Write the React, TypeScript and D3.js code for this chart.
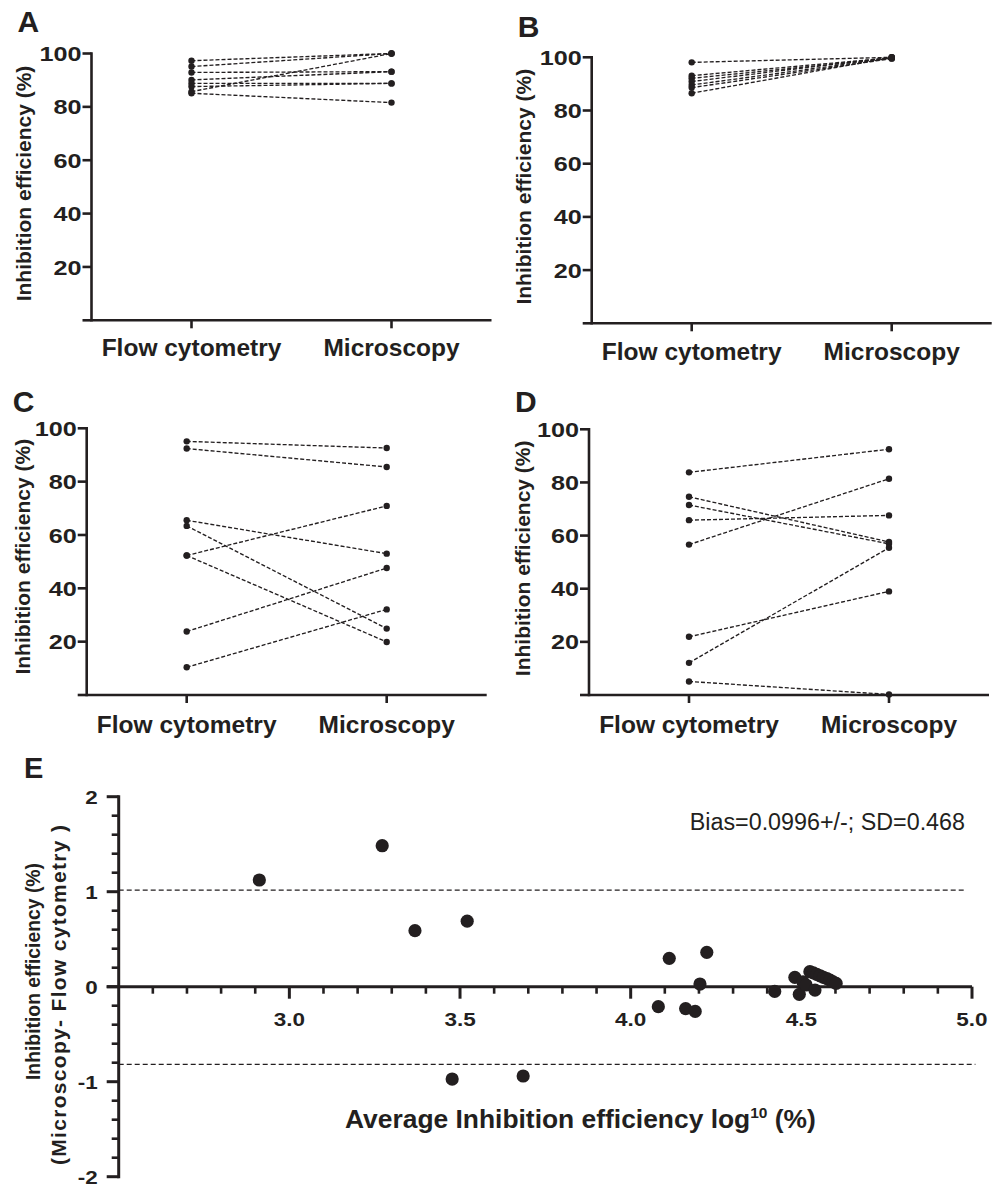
import * as d3 from "d3";

// paired panels: inhibition efficiency (%) per sample, flow cytometry vs microscopy
const categories = ["Flow cytometry", "Microscopy"];
const yTickValues = [0, 20, 40, 60, 80, 100];

const aFlow = [97.3, 95.1, 92.9, 90.1, 88.8, 87.6, 85.7, 85.1];
const aMicro = [100, 100, 93.2, 93.2, 88.8, 88.8, 100, 81.6];

const bFlow = [98.1, 93.1, 92.1, 90.9, 89.6, 88.6, 86.5];
const bMicro = [100, 99.8, 99.6, 100, 99.7, 99.5, 99.9];

const cFlow = [95.1, 92.4, 65.5, 63.4, 52.3, 52.3, 23.8, 10.4];
const cMicro = [92.6, 85.5, 53.0, 24.9, 70.9, 19.9, 47.6, 32.1];

const dFlow = [83.8, 74.6, 71.5, 65.8, 56.6, 21.9, 12.1, 5.1];
const dMicro = [92.5, 57.6, 56.9, 67.6, 81.4, 39.0, 55.4, 0.2];

// Bland-Altman panel E
const eAverage = [
  2.912, 3.272, 3.368, 3.521, 3.477, 3.685, 4.113, 4.223, 4.203, 4.081, 4.161,
  4.189, 4.422, 4.481, 4.494, 4.505, 4.514, 4.525, 4.535, 4.54, 4.545, 4.555,
  4.565, 4.575, 4.584, 4.593, 4.602,
];
const eDifference = [
  1.123, 1.484, 0.59, 0.69, -0.972, -0.94, 0.299, 0.362, 0.028, -0.21, -0.23,
  -0.26, -0.05, 0.099, -0.08, 0.05, 0.018, 0.158, 0.145, -0.035, 0.13, 0.115,
  0.099, 0.085, 0.07, 0.05, 0.035,
];
const eBias = 0.0996;
const eSD = 0.468;
const eXMajor = [3.0, 3.5, 4.0, 4.5, 5.0];
const eYMajor = [-2, -1, 0, 1, 2];

const INK = "#231f20";
const FONT = "'Liberation Sans', Arial, Helvetica, sans-serif";

type PanelProps = {
  letter: string;
  flow: number[];
  micro: number[];
  x0: number;
  yTop: number;
  yBottom: number;
  letterY: number;
  titleX: number;
  titleY: number;
  catY: number;
};

function PairedPanel(p: PanelProps) {
  const x = d3.scaleLinear().domain([0, 4]).range([p.x0, p.x0 + 400]);
  const y = d3.scaleLinear().domain([0, 100]).range([p.yBottom, p.yTop]);
  const catX = [x(1), x(3)];
  const line = d3
    .line<[number, number]>()
    .x((d) => d[0])
    .y((d) => d[1]);

  return (
    <g>
      <text x={p.x0 - 74} y={p.letterY} fontSize={30} fontWeight="bold" fill={INK}>
        {p.letter}
      </text>

      {p.flow.map((f, i) => (
        <path
          key={"l" + i}
          d={line([
            [catX[0], y(f)],
            [catX[1], y(p.micro[i])],
          ]) as string}
          fill="none"
          stroke={INK}
          strokeWidth={1.35}
          strokeDasharray="4,2"
        />
      ))}
      {p.flow.map((f, i) => (
        <circle key={"f" + i} cx={catX[0]} cy={y(f)} r={3.2} fill={INK} />
      ))}
      {p.micro.map((m, i) => (
        <circle key={"m" + i} cx={catX[1]} cy={y(m)} r={3.2} fill={INK} />
      ))}

      {/* y axis */}
      <line x1={p.x0} x2={p.x0} y1={y(0)} y2={y(100)} stroke={INK} strokeWidth={2.6} strokeLinecap="square" />
      {yTickValues.map((t) => (
        <g key={"yt" + t}>
          <line x1={p.x0 - 9} x2={p.x0} y1={y(t)} y2={y(t)} stroke={INK} strokeWidth={2.6} />
          {t > 0 && (
            <text
              transform={`translate(${p.x0 - 10},${y(t)}) scale(1.2,1)`}
              textAnchor="end"
              dy="0.36em"
              fontSize={21}
              fontWeight="bold"
              fill={INK}
            >
              {t}
            </text>
          )}
        </g>
      ))}

      {/* x axis */}
      <line x1={p.x0} x2={x(4)} y1={y(0)} y2={y(0)} stroke={INK} strokeWidth={2.6} />
      {catX.map((cx, i) => (
        <g key={"xt" + i}>
          <line x1={cx} x2={cx} y1={y(0)} y2={y(0) + 8} stroke={INK} strokeWidth={2.6} />
          <text x={cx} y={p.catY} textAnchor="middle" fontSize={24.5} fontWeight="bold" fill={INK}>
            {categories[i]}
          </text>
        </g>
      ))}

      <text
        transform={`translate(${p.titleX},${p.titleY}) rotate(-90)`}
        textAnchor="middle"
        fontSize={21}
        fontWeight="bold"
        fill={INK}
      >
        Inhibition efficiency (%)
      </text>
    </g>
  );
}

function BlandAltman() {
  const x = d3.scaleLinear().domain([2.5, 5]).range([118.7, 972]);
  const y = d3.scaleLinear().domain([-2, 2]).range([1176.7, 796.7]);
  const xMinor = d3.range(26, 51).map((v) => v / 10).filter((v) => Math.round(v * 10) % 5 !== 0);
  const yMinor = d3.range(-10, 11).map((v) => v / 5).filter((v) => Math.round(v * 5) % 5 !== 0);
  const upper = eBias + 1.96 * eSD;
  const lower = eBias - 1.96 * eSD;
  const ax = x(2.5);
  const ay = y(0);

  return (
    <g>
      <text x={24} y={778} fontSize={29} fontWeight="bold" fill={INK}>
        E
      </text>

      {/* limits of agreement */}
      <line x1={ax} x2={x(4.98)} y1={y(upper)} y2={y(upper)} stroke={INK} strokeWidth={1.4} strokeDasharray="5,3" />
      <line x1={ax} x2={x(5.01)} y1={y(lower)} y2={y(lower)} stroke={INK} strokeWidth={1.4} strokeDasharray="5,3" />

      {/* y axis */}
      <line x1={ax} x2={ax} y1={y(-2)} y2={y(2)} stroke={INK} strokeWidth={3} strokeLinecap="square" />
      {yMinor.map((t) => (
        <line key={"ym" + t} x1={ax - 7} x2={ax} y1={y(t)} y2={y(t)} stroke={INK} strokeWidth={2.6} />
      ))}
      {eYMajor.map((t) => (
        <g key={"yM" + t}>
          <line x1={ax - 12} x2={ax} y1={y(t)} y2={y(t)} stroke={INK} strokeWidth={3} />
          <text
            transform={`translate(${ax - 21},${y(t)}) scale(1.18,1)`}
            textAnchor="end"
            dy="0.36em"
            fontSize={19}
            fontWeight="bold"
            fill={INK}
          >
            {t}
          </text>
        </g>
      ))}

      {/* x axis at zero */}
      <line x1={ax - 12} x2={x(5)} y1={ay} y2={ay} stroke={INK} strokeWidth={3} />
      {xMinor.map((t) => (
        <line key={"xm" + t} x1={x(t)} x2={x(t)} y1={ay} y2={ay + 7} stroke={INK} strokeWidth={2.6} />
      ))}
      {eXMajor.map((t) => (
        <g key={"xM" + t}>
          <line x1={x(t)} x2={x(t)} y1={ay} y2={ay + 12} stroke={INK} strokeWidth={3} />
          <text
            transform={`translate(${x(t)},1026) scale(1.25,1)`}
            textAnchor="middle"
            fontSize={18}
            fontWeight="bold"
            fill={INK}
          >
            {t.toFixed(1)}
          </text>
        </g>
      ))}

      {eAverage.map((a, i) => (
        <circle key={"p" + i} cx={x(a)} cy={y(eDifference[i])} r={6.6} fill={INK} />
      ))}

      <text x={965} y={830} textAnchor="end" fontSize={23.3} fill={INK}>
        Bias=0.0996+/-; SD=0.468
      </text>

      <text x={345} y={1128} fontSize={26.4} fontWeight="bold" fill={INK}>
        Average Inhibition efficiency log
        <tspan fontSize={15.5} dy={-10}>10</tspan>
        <tspan dy={10}> (%)</tspan>
      </text>

      <text
        transform={`translate(40,971.5) rotate(-90)`}
        textAnchor="middle"
        fontSize={21}
        fontWeight="bold"
        fill={INK}
        textLength={217}
        lengthAdjust="spacingAndGlyphs"
      >
        Inhibition efficiency (%)
      </text>
      <text
        transform={`translate(66,995) rotate(-90)`}
        textAnchor="middle"
        fontSize={21}
        fontWeight="bold"
        fill={INK}
        textLength={340}
        lengthAdjust="spacing"
      >
        (Microscopy- Flow cytometry )
      </text>
    </g>
  );
}

export default function App() {
  return (
    <div style={{ position: "absolute", left: 0, top: 0 }}>
      <svg width={993} height={1186} style={{ display: "block", background: "#fff", fontFamily: FONT }}>
        <PairedPanel letter="A" flow={aFlow} micro={aMicro} x0={91.5} yTop={53.5} yBottom={320.3} letterY={32} titleX={31} titleY={183.5} catY={356} />
        <PairedPanel letter="B" flow={bFlow} micro={bMicro} x0={591.7} yTop={57.3} yBottom={323.3} letterY={37} titleX={531} titleY={186.7} catY={360} />
        <PairedPanel letter="C" flow={cFlow} micro={cMicro} x0={86.7} yTop={428.3} yBottom={695} letterY={412} titleX={29.5} titleY={556.7} catY={733} />
        <PairedPanel letter="D" flow={dFlow} micro={dMicro} x0={589} yTop={429.3} yBottom={695} letterY={412} titleX={530} titleY={558.3} catY={733} />
        <BlandAltman />
      </svg>
    </div>
  );
}
